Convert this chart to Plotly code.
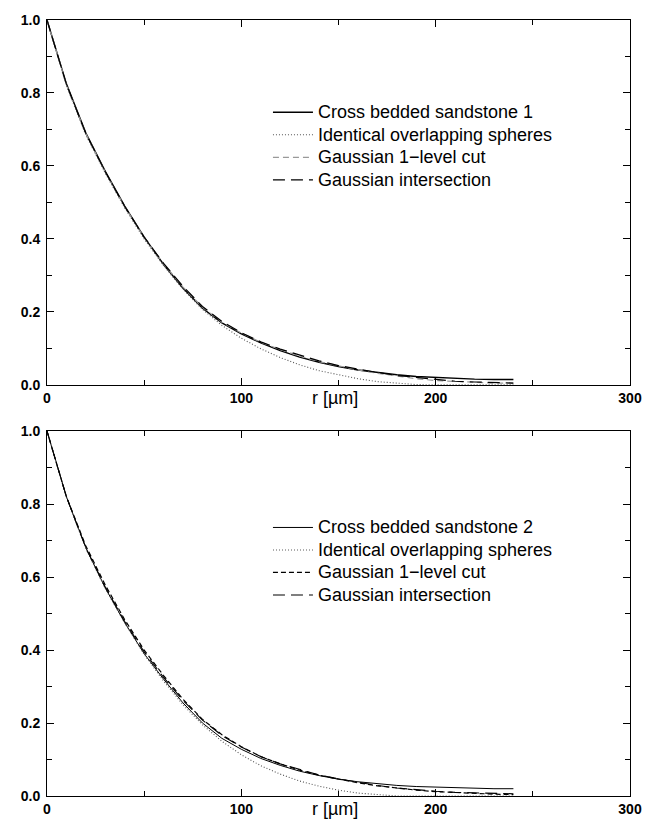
import plotly.graph_objects as go
from plotly.subplots import make_subplots

r = [0, 10, 20, 30, 40, 50, 60, 70, 80, 90, 100, 110, 120, 130, 140, 150,
     160, 170, 180, 190, 200, 210, 220, 230, 240]

# top panel
cbs1 = [1.0, 0.825, 0.69, 0.585, 0.49, 0.405, 0.33, 0.265, 0.21, 0.17, 0.14, 0.115, 0.094,
        0.076, 0.062, 0.05, 0.041, 0.034, 0.028, 0.023, 0.02, 0.018, 0.016, 0.015, 0.015]
ios1 = [1.0, 0.82, 0.685, 0.58, 0.485, 0.40, 0.327, 0.262, 0.207, 0.163, 0.128, 0.099, 0.075,
        0.055, 0.039, 0.027, 0.017, 0.009, 0.004, 0.001, 0.0, 0.0, 0.0, 0.0, 0.0]
g1cut1 = [1.0, 0.823, 0.688, 0.583, 0.488, 0.404, 0.332, 0.268, 0.213, 0.172, 0.142, 0.117,
          0.097, 0.079, 0.064, 0.052, 0.041, 0.032, 0.024, 0.017, 0.012, 0.009, 0.007, 0.005, 0.005]
gint1 = [1.0, 0.824, 0.689, 0.584, 0.489, 0.405, 0.333, 0.27, 0.215, 0.174, 0.143, 0.118,
         0.098, 0.081, 0.066, 0.053, 0.043, 0.034, 0.026, 0.02, 0.014, 0.01, 0.008, 0.006, 0.005]

# bottom panel
cbs2 = [1.0, 0.82, 0.68, 0.57, 0.475, 0.39, 0.32, 0.255, 0.2, 0.158, 0.128, 0.103, 0.084,
        0.068, 0.056, 0.046, 0.039, 0.033, 0.029, 0.026, 0.024, 0.022, 0.021, 0.02, 0.02]
ios2 = [1.0, 0.818, 0.678, 0.568, 0.474, 0.388, 0.315, 0.25, 0.195, 0.15, 0.113, 0.083, 0.06,
        0.041, 0.027, 0.016, 0.008, 0.003, 0.0, 0.0, 0.0, 0.0, 0.0, 0.0, 0.0]
g1cut2 = [1.0, 0.82, 0.685, 0.578, 0.483, 0.4, 0.33, 0.265, 0.21, 0.168, 0.135, 0.108, 0.088,
          0.071, 0.057, 0.046, 0.036, 0.028, 0.021, 0.016, 0.012, 0.009, 0.007, 0.005, 0.004]
gint2 = [1.0, 0.82, 0.68, 0.573, 0.478, 0.395, 0.325, 0.262, 0.208, 0.166, 0.134, 0.108, 0.088,
         0.072, 0.058, 0.047, 0.037, 0.029, 0.022, 0.017, 0.013, 0.01, 0.008, 0.007, 0.006]

names1 = ["Cross bedded sandstone 1", "Identical overlapping spheres",
          "Gaussian 1\u2212level cut", "Gaussian intersection"]
names2 = ["Cross bedded sandstone 2", "Identical overlapping spheres",
          "Gaussian 1\u2212level cut", "Gaussian intersection"]

x_ticks = [0, 100, 200, 300]
y_ticks = [0.0, 0.2, 0.4, 0.6, 0.8, 1.0]

fig = make_subplots(rows=2, cols=1, vertical_spacing=0.0595)

styles1 = [dict(color="black", width=1.4, dash="solid"),
           dict(color="#555555", width=1.1, dash="1px,2px"),
           dict(color="#999999", width=1.2, dash="6px,4px"),
           dict(color="black", width=1.2, dash="12px,6px")]
styles2 = [dict(color="black", width=1.0, dash="solid"),
           dict(color="#555555", width=1.1, dash="1px,2px"),
           dict(color="black", width=1.2, dash="5px,3px"),
           dict(color="black", width=1.1, dash="12px,6px")]


def lbl(s):
    return '<span style="font-size:18px">' + s + '</span>'


for ys, nm, st in zip([cbs1, ios1, g1cut1, gint1], names1, styles1):
    fig.add_trace(go.Scatter(x=r, y=ys, mode="lines", name=lbl(nm), line=st,
                             legend="legend"), row=1, col=1)
for ys, nm, st in zip([cbs2, ios2, g1cut2, gint2], names2, styles2):
    fig.add_trace(go.Scatter(x=r, y=ys, mode="lines", name=lbl(nm), line=st,
                             legend="legend2"), row=2, col=1)

axis_font = dict(family="Liberation Sans, Arial, sans-serif", size=14, color="black",
                 weight="bold")
for i in (1, 2):
    fig.update_xaxes(range=[0, 300], tickvals=x_ticks, ticks="inside", ticklen=7,
                     tickwidth=1, tickcolor="black", showline=True, linecolor="black",
                     linewidth=1, mirror="ticks", showgrid=False, zeroline=False,
                     tickfont=axis_font,
                     minor=dict(tickvals=[50, 150, 250], ticks="inside", ticklen=5,
                                tickcolor="black", showgrid=False),
                     row=i, col=1)
    fig.update_yaxes(range=[0, 1], tickvals=y_ticks, tickformat=".1f", ticks="inside",
                     ticklen=7, tickwidth=1, tickcolor="black", showline=True,
                     linecolor="black", linewidth=1, mirror="ticks", showgrid=False,
                     zeroline=False, tickfont=axis_font, ticklabelstandoff=3,
                     minor=dict(tickvals=[0.1, 0.3, 0.5, 0.7, 0.9], ticks="inside",
                                ticklen=5, tickcolor="black", showgrid=False),
                     row=i, col=1)

for xr, yr in (("x", "y domain"), ("x2", "y2 domain")):
    fig.add_annotation(x=148, y=0, xref=xr, yref=yr, text="r [\u00b5m]", showarrow=False,
                       yanchor="top", yshift=-1,
                       font=dict(family="Liberation Sans, Arial, sans-serif", size=18,
                                 color="black"))

leg_font = dict(family="Liberation Sans, Arial, sans-serif", size=15, color="black")
fig.update_layout(
    width=657, height=829,
    margin=dict(l=47, r=27, t=13, b=26),
    paper_bgcolor="white", plot_bgcolor="white",
    showlegend=True,
    legend=dict(x=0.379, y=0.902, xanchor="left", yanchor="top", font=leg_font,
                bgcolor="rgba(0,0,0,0)", itemwidth=40),
    legend2=dict(x=0.379, y=0.367, xanchor="left", yanchor="top", font=leg_font,
                 bgcolor="rgba(0,0,0,0)", itemwidth=40),
)

fig.write_html("out.html")
